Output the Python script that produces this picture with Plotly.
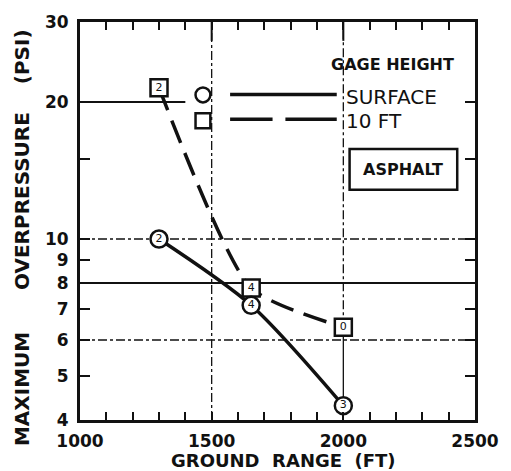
import math
import plotly.graph_objects as go

# Maximum overpressure vs ground range, asphalt surface
ground_range_ft = [1300, 1650, 2000]
surface_psi = [10.0, 7.15, 4.3]
ten_ft_psi = [21.5, 7.8, 6.4]
surface_labels = ["2", "4", "3"]
ten_ft_labels = ["2", "4", "0"]

x_labels = {1000: "1000", 1500: "1500", 2000: "2000", 2500: "2500"}
x_tick_step = 100
y_ticks = [4, 5, 6, 7, 8, 9, 10, 15, 20, 30]
y_tick_text = ["4", "5", "6", "7", "8", "9", "10", "", "20", "30"]

X_MIN, X_MAX = 1000, 2500
Y_MIN, Y_MAX = 4, 30

FONT = "DejaVu Sans, Liberation Sans, sans-serif"
INK = "#111111"

# plot area in pixels
L, T, W, H = 80, 19, 400, 401
FIG_W, FIG_H = 511, 471


def yp(v):
    """psi value -> paper fraction on the log axis"""
    return (math.log10(v) - math.log10(Y_MIN)) / (math.log10(Y_MAX) - math.log10(Y_MIN))


def px_x(x):
    return (x - L) / W


def px_y(y):
    return (T + H - y) / H


fig = go.Figure()

fig.add_trace(go.Scatter(
    x=ground_range_ft, y=ten_ft_psi, mode="lines+markers+text",
    text=ten_ft_labels, textposition="middle center",
    textfont=dict(family=FONT, size=11, color=INK),
    line=dict(color=INK, width=3.5, dash="24px,11px", shape="spline", smoothing=0.6),
    marker=dict(symbol="square", size=17, color="white", line=dict(color=INK, width=2.5)),
    showlegend=False, cliponaxis=False,
))
fig.add_trace(go.Scatter(
    x=ground_range_ft, y=surface_psi, mode="lines+markers+text",
    text=surface_labels, textposition="middle center",
    textfont=dict(family=FONT, size=11, color=INK),
    line=dict(color=INK, width=3.5, shape="spline", smoothing=0.8),
    marker=dict(symbol="circle", size=17, color="white", line=dict(color=INK, width=2.5)),
    showlegend=False, cliponaxis=False,
))

shapes = []
# horizontal reference lines
shapes.append(dict(type="line", xref="x", yref="paper", x0=X_MIN, x1=1400,
                   y0=yp(20), y1=yp(20), line=dict(color=INK, width=2), layer="below"))
shapes.append(dict(type="line", xref="x", yref="paper", x0=X_MIN, x1=X_MAX,
                   y0=yp(8), y1=yp(8), line=dict(color=INK, width=2), layer="below"))
for v in (10, 6):
    shapes.append(dict(type="line", xref="x", yref="paper", x0=X_MIN, x1=X_MAX,
                       y0=yp(v), y1=yp(v), line=dict(color=INK, width=1.5, dash="dashdot"),
                       layer="below"))
# vertical reference lines
shapes.append(dict(type="line", xref="x", yref="paper", x0=1500, x1=1500, y0=0, y1=1,
                   line=dict(color=INK, width=1.3, dash="dashdot"), layer="below"))
shapes.append(dict(type="line", xref="x", yref="paper", x0=2000, x1=2000,
                   y0=yp(ten_ft_psi[-1]), y1=1,
                   line=dict(color=INK, width=1.3, dash="dashdot"), layer="below"))
shapes.append(dict(type="line", xref="x", yref="paper", x0=2000, x1=2000,
                   y0=0, y1=yp(ten_ft_psi[-1]),
                   line=dict(color=INK, width=1.3), layer="below"))
# longer top ticks at the labelled ranges
for xv in (1500, 2000):
    shapes.append(dict(type="line", xref="x", yref="paper", x0=xv, x1=xv,
                       y0=1, y1=px_y(T + 19), line=dict(color=INK, width=2)))

# legend key: symbols and line samples
shapes.append(dict(type="circle", xref="paper", yref="paper",
                   x0=px_x(197), x1=px_x(212), y0=px_y(100), y1=px_y(85),
                   line=dict(color=INK, width=2.5)))
shapes.append(dict(type="rect", xref="paper", yref="paper",
                   x0=px_x(197), x1=px_x(212), y0=px_y(126), y1=px_y(111),
                   line=dict(color=INK, width=2.5)))
shapes.append(dict(type="line", xref="paper", yref="paper",
                   x0=px_x(232), x1=px_x(340), y0=px_y(92), y1=px_y(92),
                   line=dict(color=INK, width=3.5)))
shapes.append(dict(type="line", xref="paper", yref="paper",
                   x0=px_x(232), x1=px_x(275), y0=px_y(117), y1=px_y(117),
                   line=dict(color=INK, width=3.5)))
shapes.append(dict(type="line", xref="paper", yref="paper",
                   x0=px_x(288), x1=px_x(340), y0=px_y(117), y1=px_y(117),
                   line=dict(color=INK, width=3.5)))
# surface type box
shapes.append(dict(type="rect", xref="paper", yref="paper",
                   x0=px_x(353), x1=px_x(462), y0=px_y(188), y1=px_y(147),
                   line=dict(color=INK, width=2.5)))

GAP6 = "&nbsp;" * 6
GAP4 = "&nbsp;" * 4

annotations = [
    dict(text="<b>GAGE HEIGHT</b>", xref="paper", yref="paper", x=px_x(396), y=px_y(62),
         showarrow=False, font=dict(family=FONT, size=16, color=INK), xanchor="center", yanchor="middle"),
    dict(text="SURFACE", xref="paper", yref="paper", x=px_x(347), y=px_y(95),
         showarrow=False, font=dict(family=FONT, size=20, color=INK), xanchor="left", yanchor="middle"),
    dict(text="10 FT", xref="paper", yref="paper", x=px_x(347), y=px_y(119),
         showarrow=False, font=dict(family=FONT, size=20, color=INK), xanchor="left", yanchor="middle"),
    dict(text="<b>ASPHALT</b>", xref="paper", yref="paper", x=px_x(407), y=px_y(168),
         showarrow=False, font=dict(family=FONT, size=16, color=INK), xanchor="center", yanchor="middle"),
    dict(text="<b>GROUND  RANGE  (FT)</b>", xref="paper", yref="paper", x=px_x(286), y=px_y(461),
         showarrow=False, font=dict(family=FONT, size=18, color=INK), xanchor="center", yanchor="middle"),
    dict(text="<b>MAXIMUM" + GAP6 + "OVERPRESSURE" + GAP4 + "(PSI)</b>", xref="paper", yref="paper",
         x=px_x(22), y=px_y(236),
         showarrow=False, textangle=-90, font=dict(family=FONT, size=20, color=INK),
         xanchor="center", yanchor="middle"),
]

x_tickvals = list(range(X_MIN, X_MAX + 1, x_tick_step))
x_ticktext = [x_labels.get(v, "") for v in x_tickvals]

fig.update_layout(
    width=FIG_W, height=FIG_H,
    margin=dict(l=L, r=FIG_W - L - W, t=T, b=FIG_H - T - H, pad=0),
    paper_bgcolor="white", plot_bgcolor="white",
    font=dict(family=FONT, color=INK),
    shapes=shapes, annotations=annotations,
    showlegend=False,
)
fig.update_xaxes(
    range=[X_MIN, X_MAX], tickvals=x_tickvals, ticktext=x_ticktext,
    ticks="inside", ticklen=8, tickwidth=2, tickcolor=INK,
    showline=True, linewidth=3, linecolor=INK, mirror="ticks",
    showgrid=False, zeroline=False, ticklabelstandoff=4,
    tickfont=dict(family=FONT, size=17, color=INK, weight="bold"),
)
fig.update_yaxes(
    type="log", range=[math.log10(Y_MIN), math.log10(Y_MAX)],
    tickvals=y_ticks, ticktext=y_tick_text,
    ticks="inside", ticklen=10, tickwidth=2, tickcolor=INK,
    showline=True, linewidth=3, linecolor=INK, mirror="ticks",
    showgrid=False, zeroline=False, ticklabelstandoff=5,
    tickfont=dict(family=FONT, size=17, color=INK, weight="bold"),
)

fig.write_html("out.html")
